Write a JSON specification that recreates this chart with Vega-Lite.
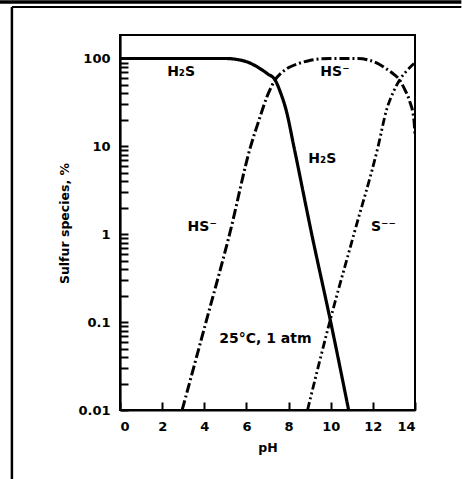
{
  "$schema": "https://vega.github.io/schema/vega-lite/v6.json",
  "width": 295,
  "height": 375,
  "autosize": "none",
  "padding": {"left": 120, "top": 35, "right": 47, "bottom": 69},
  "background": "white",
  "config": {
    "view": {"stroke": "black", "strokeWidth": 2},
    "font": "DejaVu Sans",
    "axis": {
      "grid": false,
      "domainColor": "black",
      "domainWidth": 2.2,
      "tickColor": "black",
      "tickWidth": 2,
      "labelColor": "black",
      "labelFont": "DejaVu Sans",
      "labelFontWeight": "bold",
      "labelFontSize": 13,
      "titleColor": "black",
      "titleFont": "DejaVu Sans",
      "titleFontWeight": "bold",
      "titleFontSize": 12.5
    }
  },
  "datasets": {
    "curves": [
      {"pH": 0, "pct": 100, "species": "H2S"},
      {"pH": 5.0, "pct": 100, "species": "H2S"},
      {"pH": 5.6, "pct": 97, "species": "H2S"},
      {"pH": 6.0, "pct": 92, "species": "H2S"},
      {"pH": 6.6, "pct": 78, "species": "H2S"},
      {"pH": 7.0, "pct": 67, "species": "H2S"},
      {"pH": 7.36, "pct": 57, "species": "H2S"},
      {"pH": 7.6, "pct": 42, "species": "H2S"},
      {"pH": 7.9, "pct": 25, "species": "H2S"},
      {"pH": 8.25, "pct": 10, "species": "H2S"},
      {"pH": 9.1, "pct": 1, "species": "H2S"},
      {"pH": 10.0, "pct": 0.1, "species": "H2S"},
      {"pH": 10.85, "pct": 0.01, "species": "H2S"},
      {"pH": 2.95, "pct": 0.01, "species": "HS"},
      {"pH": 4.08, "pct": 0.1, "species": "HS"},
      {"pH": 5.2, "pct": 1, "species": "HS"},
      {"pH": 6.2, "pct": 10, "species": "HS"},
      {"pH": 6.6, "pct": 20, "species": "HS"},
      {"pH": 7.0, "pct": 38, "species": "HS"},
      {"pH": 7.36, "pct": 57, "species": "HS"},
      {"pH": 7.7, "pct": 70, "species": "HS"},
      {"pH": 8.06, "pct": 80, "species": "HS"},
      {"pH": 8.5, "pct": 88, "species": "HS"},
      {"pH": 9.0, "pct": 95, "species": "HS"},
      {"pH": 9.5, "pct": 99, "species": "HS"},
      {"pH": 10.0, "pct": 100, "species": "HS"},
      {"pH": 11.3, "pct": 100, "species": "HS"},
      {"pH": 11.8, "pct": 96, "species": "HS"},
      {"pH": 12.3, "pct": 86, "species": "HS"},
      {"pH": 12.65, "pct": 76, "species": "HS"},
      {"pH": 13.0, "pct": 66, "species": "HS"},
      {"pH": 13.27, "pct": 57, "species": "HS"},
      {"pH": 13.5, "pct": 45, "species": "HS"},
      {"pH": 13.74, "pct": 33, "species": "HS"},
      {"pH": 13.95, "pct": 20, "species": "HS"},
      {"pH": 14.0, "pct": 13, "species": "HS"},
      {"pH": 8.9, "pct": 0.01, "species": "S2"},
      {"pH": 9.95, "pct": 0.1, "species": "S2"},
      {"pH": 11.1, "pct": 1, "species": "S2"},
      {"pH": 12.25, "pct": 10, "species": "S2"},
      {"pH": 12.65, "pct": 26, "species": "S2"},
      {"pH": 13.0, "pct": 43, "species": "S2"},
      {"pH": 13.27, "pct": 57, "species": "S2"},
      {"pH": 13.6, "pct": 72, "species": "S2"},
      {"pH": 14.0, "pct": 90, "species": "S2"}
    ],
    "labels": [
      {"pH": 2.9, "pct": 71, "text": "H₂S"},
      {"pH": 10.2, "pct": 71, "text": "HS⁻"},
      {"pH": 9.6, "pct": 7.1, "text": "H₂S"},
      {"pH": 3.9, "pct": 1.2, "text": "HS⁻"},
      {"pH": 12.5, "pct": 1.2, "text": "S⁻⁻"},
      {"pH": 6.9, "pct": 0.065, "text": "25°C, 1 atm"}
    ],
    "frame": [
      {"x": -5.7, "x2": 16.2, "y": 439, "y2": 439, "w": 3.5},
      {"x": -5.13, "x2": 16.2, "y": 385, "y2": 385, "w": 2},
      {"x": -5.13, "x2": -5.13, "y": 385, "y2": 0.0016, "w": 2.5}
    ]
  },
  "layer": [
    {
      "data": {"name": "frame"},
      "mark": {"type": "rule", "clip": false, "color": "black"},
      "encoding": {
        "x": {"field": "x", "type": "quantitative", "scale": {"domain": [0, 14]}},
        "x2": {"field": "x2"},
        "y": {"field": "y", "type": "quantitative", "scale": {"type": "log", "domain": [0.01, 185]}},
        "y2": {"field": "y2"},
        "strokeWidth": {"field": "w", "type": "quantitative", "scale": null, "legend": null}
      }
    },
    {
      "data": {"name": "curves"},
      "mark": {"type": "line", "clip": true, "color": "black", "interpolate": "monotone"},
      "encoding": {
        "x": {
          "field": "pH", "type": "quantitative",
          "scale": {"domain": [0, 14], "nice": false, "zero": false},
          "axis": {
            "values": [0, 2, 4, 6, 8, 10, 12, 14],
            "tickSize": -8,
            "labelPadding": 18,
            "title": "pH",
            "titleY": 37,
            "titleBaseline": "middle"
          }
        },
        "y": {
          "field": "pct", "type": "quantitative",
          "scale": {"type": "log", "domain": [0.01, 185], "nice": false},
          "axis": {
            "values": [0.01,0.02,0.03,0.04,0.05,0.06,0.07,0.08,0.09,0.1,0.2,0.3,0.4,0.5,0.6,0.7,0.8,0.9,1,2,3,4,5,6,7,8,9,10,20,30,40,50,60,70,80,90,100],
            "format": ".2~f",
            "labelExpr": "indexof([0.01,0.1,1,10,100], datum.value) >= 0 ? datum.label : ''",
            "tickSize": -8,
            "labelPadding": 18,
            "labelBound": false,
            "labelOverlap": false,
            "title": "Sulfur species, %",
            "titleX": -56,
            "titleY": 188,
            "titleBaseline": "middle",
            "titleAngle": -90
          }
        },
        "detail": {"field": "species"},
        "strokeDash": {
          "field": "species", "type": "nominal", "legend": null,
          "scale": {"domain": ["H2S", "HS", "S2"], "range": [[1, 0], [10, 3, 2, 3], [8, 3, 2, 3, 2, 3]]}
        },
        "strokeWidth": {
          "field": "species", "type": "nominal", "legend": null,
          "scale": {"domain": ["H2S", "HS", "S2"], "range": [3.2, 2.8, 2.8]}
        }
      }
    },
    {
      "data": {"name": "labels"},
      "mark": {"type": "text", "font": "DejaVu Sans", "fontWeight": "bold", "fontSize": 14, "color": "black", "align": "center", "baseline": "middle"},
      "encoding": {
        "x": {"field": "pH", "type": "quantitative"},
        "y": {"field": "pct", "type": "quantitative"},
        "text": {"field": "text"}
      }
    }
  ]
}
